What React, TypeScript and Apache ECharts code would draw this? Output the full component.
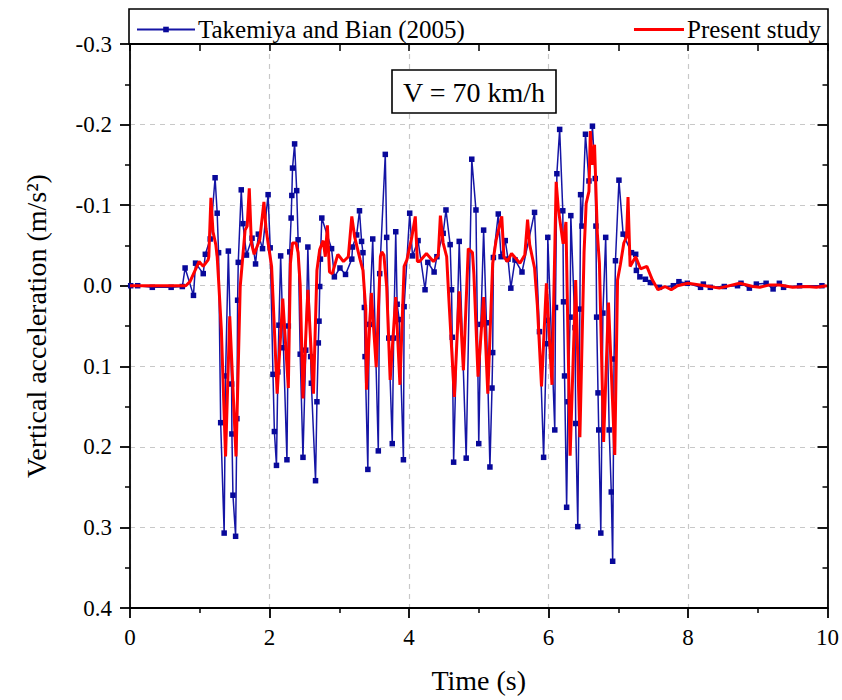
import React, { useEffect, useRef } from "react";
import * as echarts from "echarts";

const FONT = "Liberation Serif";

const seriesNames = ["Takemiya and Bian (2005)", "Present study"];
const annotationText = "V = 70 km/h";
const xTitle = "Time (s)";
const yTitle = "Vertical acceleration (m/s²)";

// [time (s), vertical acceleration (m/s^2)]
const takemiyaData = [
  [0.01, 0.0], [0.11, 0.0], [0.32, 0.002], [0.59, 0.002], [0.75, 0.001], [0.79, -0.022], [0.91, 0.012], [0.94, -0.028],
  [1.05, -0.015], [1.08, -0.039], [1.15, -0.058], [1.22, -0.134], [1.25, -0.09], [1.27, -0.041], [1.3, 0.17], [1.35, 0.307],
  [1.37, 0.112], [1.41, -0.043], [1.457, 0.122], [1.461, 0.184], [1.476, 0.26], [1.514, 0.311], [1.533, 0.165], [1.543, 0.018],
  [1.552, -0.029], [1.595, -0.119], [1.62, -0.077], [1.67, -0.038], [1.75, -0.059], [1.8, -0.027], [1.84, -0.064], [1.9, -0.046],
  [1.98, -0.113], [2.01, -0.047], [2.05, 0.11], [2.07, 0.181], [2.1, 0.223], [2.12, 0.107], [2.135, 0.049], [2.16, -0.037],
  [2.2, 0.077], [2.25, 0.216], [2.27, 0.05], [2.29, -0.042], [2.31, -0.084], [2.32, -0.112], [2.33, -0.146], [2.36, -0.176],
  [2.39, -0.118], [2.41, -0.057], [2.44, 0.085], [2.48, 0.213], [2.52, 0.08], [2.55, -0.048], [2.59, 0.088], [2.6, 0.121],
  [2.66, 0.242], [2.68, 0.144], [2.7, 0.071], [2.71, 0.044], [2.72, 0.001], [2.73, -0.033], [2.75, -0.084], [2.89, -0.046],
  [2.93, -0.011], [3.01, -0.022], [3.09, -0.014], [3.18, -0.033], [3.19, -0.048], [3.25, -0.063], [3.29, -0.093], [3.32, -0.055],
  [3.34, -0.041], [3.36, 0.027], [3.37, 0.088], [3.41, 0.228], [3.43, 0.048], [3.48, -0.058], [3.56, 0.205], [3.58, -0.015],
  [3.66, -0.163], [3.68, -0.06], [3.71, 0.065], [3.76, 0.196], [3.78, 0.065], [3.81, -0.067], [3.83, 0.023], [3.86, 0.042],
  [3.92, 0.216], [3.93, 0.026], [4.01, -0.09], [4.05, -0.037], [4.13, -0.056], [4.23, 0.005], [4.27, -0.029], [4.36, -0.017],
  [4.4, -0.036], [4.49, -0.065], [4.53, -0.094], [4.59, -0.051], [4.61, 0.005], [4.62, 0.064], [4.64, 0.219], [4.72, -0.055],
  [4.82, 0.214], [4.9, -0.157], [4.96, -0.094], [5.0, 0.196], [5.03, 0.048], [5.07, -0.069], [5.11, 0.046], [5.16, 0.225],
  [5.19, 0.127], [5.2, 0.083], [5.21, -0.035], [5.28, -0.089], [5.32, -0.036], [5.38, -0.056], [5.42, -0.033], [5.46, 0.003],
  [5.52, -0.032], [5.62, -0.017], [5.8, -0.091], [5.87, 0.057], [5.93, 0.213], [5.97, 0.072], [5.98, 0.043], [5.99, -0.06],
  [6.09, 0.179], [6.1, 0.027], [6.12, -0.139], [6.16, -0.194], [6.205, -0.093], [6.215, 0.02], [6.23, 0.112], [6.26, 0.275],
  [6.28, 0.144], [6.31, 0.039], [6.32, -0.087], [6.38, 0.052], [6.39, 0.171], [6.42, 0.299], [6.45, 0.029], [6.46, -0.113],
  [6.48, -0.074], [6.53, -0.188], [6.58, -0.13], [6.63, -0.198], [6.67, -0.133], [6.68, -0.074], [6.69, 0.039], [6.71, 0.133],
  [6.72, 0.179], [6.75, 0.307], [6.78, 0.034], [6.82, -0.06], [6.87, 0.179], [6.9, 0.256], [6.92, 0.342], [6.94, 0.091],
  [6.96, -0.031], [7.01, -0.131], [7.07, -0.064], [7.19, -0.041], [7.25, -0.039], [7.26, -0.019], [7.31, -0.011], [7.39, -0.008],
  [7.46, -0.004], [7.59, 0.002], [7.79, 0.0], [7.87, -0.005], [7.99, -0.003], [8.18, 0.002], [8.22, -0.002], [8.32, 0.002],
  [8.52, 0.001], [8.71, 0.0], [8.76, -0.003], [8.88, 0.003], [8.98, -0.002], [9.12, -0.003], [9.22, 0.004], [9.31, -0.003],
  [9.37, 0.002], [9.6, 0.0], [9.92, 0.0],
];

const presentData = [
  [0.0, 0.0], [0.8, 0.0], [0.86, -0.005], [0.99, -0.03], [1.05, -0.024], [1.12, -0.032], [1.13, -0.036], [1.16, -0.109],
  [1.19, -0.067], [1.23, -0.051], [1.25, -0.036], [1.27, -0.007], [1.31, 0.055], [1.37, 0.212], [1.43, 0.038], [1.52, 0.212],
  [1.58, 0.001], [1.61, -0.029], [1.65, -0.069], [1.68, -0.074], [1.71, -0.121], [1.74, -0.053], [1.78, -0.039], [1.86, -0.057],
  [1.92, -0.104], [1.95, -0.071], [1.98, -0.053], [2.03, -0.024], [2.05, 0.014], [2.11, 0.134], [2.19, 0.016], [2.27, 0.127],
  [2.3, -0.028], [2.33, -0.053], [2.38, -0.053], [2.41, -0.041], [2.44, -0.001], [2.48, 0.14], [2.55, 0.005], [2.63, 0.134],
  [2.68, -0.019], [2.72, -0.045], [2.77, -0.056], [2.8, -0.036], [2.83, -0.075], [2.86, -0.017], [2.9, -0.015], [2.98, -0.039],
  [3.06, -0.03], [3.13, -0.036], [3.18, -0.086], [3.22, -0.061], [3.3, -0.032], [3.34, -0.019], [3.38, 0.03], [3.39, 0.129],
  [3.46, 0.009], [3.53, 0.101], [3.59, -0.036], [3.61, -0.042], [3.64, -0.038], [3.68, 0.001], [3.73, 0.117], [3.81, 0.014],
  [3.87, 0.123], [3.93, -0.024], [3.97, -0.032], [4.04, -0.06], [4.09, -0.086], [4.12, -0.03], [4.15, -0.03], [4.25, -0.04],
  [4.35, -0.03], [4.42, -0.038], [4.45, -0.087], [4.49, -0.053], [4.54, -0.036], [4.57, 0.014], [4.65, 0.138], [4.72, 0.007],
  [4.78, 0.105], [4.85, -0.046], [4.91, -0.041], [4.93, -0.015], [4.99, 0.113], [5.07, 0.014], [5.13, 0.134], [5.2, -0.028],
  [5.25, -0.057], [5.33, -0.086], [5.36, -0.036], [5.41, -0.03], [5.47, -0.04], [5.59, -0.028], [5.66, -0.038], [5.7, -0.082],
  [5.73, -0.051], [5.8, -0.022], [5.84, 0.024], [5.9, 0.125], [5.97, -0.003], [6.05, 0.123], [6.11, -0.129], [6.14, -0.096],
  [6.21, -0.052], [6.25, -0.079], [6.31, 0.211], [6.39, -0.007], [6.45, 0.188], [6.51, -0.042], [6.54, -0.102], [6.58, -0.117],
  [6.6, -0.192], [6.63, -0.15], [6.66, -0.175], [6.7, -0.065], [6.73, -0.028], [6.79, 0.194], [6.86, 0.021], [6.95, 0.21],
  [6.99, -0.007], [7.03, -0.026], [7.08, -0.053], [7.12, -0.061], [7.14, -0.11], [7.17, -0.024], [7.25, -0.036], [7.32, -0.021],
  [7.41, -0.024], [7.49, -0.007], [7.57, 0.005], [7.67, 0.001], [7.76, 0.005], [7.85, 0.0], [8.0, -0.003], [8.17, -0.001],
  [8.45, 0.003], [8.74, -0.003], [8.93, 0.001], [9.03, 0.002], [9.17, -0.001], [9.31, -0.001], [9.5, 0.002], [9.7, 0.001],
  [9.84, 0.002], [9.99, 0.0],
];

const X_MIN = 0, X_MAX = 10, X_STEP = 2;
const Y_MIN = -0.3, Y_MAX = 0.4, Y_STEP = 0.1;

export default function App() {
  const ref = useRef<HTMLDivElement>(null);
  useEffect(() => {
    if (!ref.current) return;
    const chart = echarts.init(ref.current, null, { renderer: "svg" });
    const black = "#000";
    const fmtY = (v: number) => (Math.abs(v) < 1e-9 ? "0.0" : v.toFixed(1));
    chart.setOption({
      animation: false,
      backgroundColor: "#fff",
      textStyle: { fontFamily: FONT },
      grid: { left: 130, right: 14, top: 44, bottom: 92, containLabel: false },
      legend: [
        {
          data: [seriesNames[0]], left: 131, top: 12, itemWidth: 58, itemHeight: 7, selectedMode: false,
          textStyle: { fontFamily: FONT, fontSize: 25, color: black, padding: [0, 0, 0, -2] },
        },
        {
          data: [{ name: seriesNames[1], icon: "rect" }], right: 16, top: 12, itemWidth: 50, itemHeight: 3, selectedMode: false,
          itemStyle: { color: "#ff0000" },
          textStyle: { fontFamily: FONT, fontSize: 25, color: black, padding: [0, 0, 0, -2] },
        },
      ],
      xAxis: [
        {
          type: "value", position: "bottom", min: X_MIN, max: X_MAX, interval: X_STEP,
          name: xTitle, nameLocation: "middle", nameGap: 58,
          nameTextStyle: { fontFamily: FONT, fontSize: 28, color: black },
          axisLine: { show: true, onZero: false, lineStyle: { color: black, width: 1.8 } },
          axisTick: { show: true, inside: false, length: 10, lineStyle: { color: black, width: 1.8 } },
          minorTick: { show: true, splitNumber: 2, length: 5, lineStyle: { color: black, width: 1.5 } },
          axisLabel: { fontFamily: FONT, fontSize: 23, color: black, margin: 18 },
          splitLine: { show: true, lineStyle: { color: "#c8c8c8", type: [5, 5], width: 1.2 } },
        },
        {
          type: "value", position: "top", min: X_MIN, max: X_MAX, interval: 1,
          axisLine: { show: true, onZero: false, lineStyle: { color: black, width: 1.8 } },
          axisTick: { show: true, inside: true, length: 7, lineStyle: { color: black, width: 1.5 } },
          axisLabel: { show: false }, splitLine: { show: false },
        },
      ],
      yAxis: [
        {
          type: "value", position: "left", inverse: true, min: Y_MIN, max: Y_MAX, interval: Y_STEP,
          name: yTitle, nameLocation: "middle", nameGap: 80, nameRotate: 90,
          nameTextStyle: { fontFamily: FONT, fontSize: 28, color: black },
          axisLine: { show: true, onZero: false, lineStyle: { color: black, width: 1.8 } },
          axisTick: { show: true, inside: false, length: 10, lineStyle: { color: black, width: 1.8 } },
          minorTick: { show: true, splitNumber: 2, length: 5, lineStyle: { color: black, width: 1.5 } },
          axisLabel: { fontFamily: FONT, fontSize: 23, color: black, margin: 18, formatter: fmtY },
          splitLine: { show: true, lineStyle: { color: "#c8c8c8", type: [5, 5], width: 1.2 } },
        },
        {
          type: "value", position: "right", inverse: true, min: Y_MIN, max: Y_MAX, interval: Y_STEP,
          axisLine: { show: true, onZero: false, lineStyle: { color: black, width: 1.8 } },
          axisTick: { show: true, inside: true, length: 10, lineStyle: { color: black, width: 1.8 } },
          minorTick: { show: true, splitNumber: 2, length: 5, lineStyle: { color: black, width: 1.5 } },
          axisLabel: { show: false }, splitLine: { show: false },
        },
      ],
      series: [
        {
          name: seriesNames[0], type: "line", xAxisIndex: 0, yAxisIndex: 0, data: takemiyaData,
          symbol: "rect", symbolSize: 5.5, showSymbol: true, z: 2,
          lineStyle: { color: "#1515a5", width: 1.5 }, itemStyle: { color: "#08089a" },
        },
        {
          name: seriesNames[1], type: "line", xAxisIndex: 0, yAxisIndex: 0, data: presentData,
          symbol: "none", showSymbol: false, z: 3,
          lineStyle: { color: "#ff0000", width: 3 }, itemStyle: { color: "#ff0000" },
        },
      ],
      graphic: [
        { type: "rect", shape: { x: 129, y: 9, width: 699, height: 35 }, style: { fill: "none", stroke: black, lineWidth: 1.6 }, z: 10 },
        { type: "rect", shape: { x: 392, y: 70, width: 164, height: 43 }, style: { fill: "#fff", stroke: black, lineWidth: 1.6 }, z: 10 },
        {
          type: "text", x: 474, y: 92, z: 11,
          style: { text: annotationText, fontFamily: FONT, fontSize: 28, fill: black, align: "center", verticalAlign: "middle" },
        },
      ],
    });
    return () => chart.dispose();
  }, []);
  return <div ref={ref} style={{ position: "absolute", left: 0, top: 0, width: 842, height: 700 }} />;
}
